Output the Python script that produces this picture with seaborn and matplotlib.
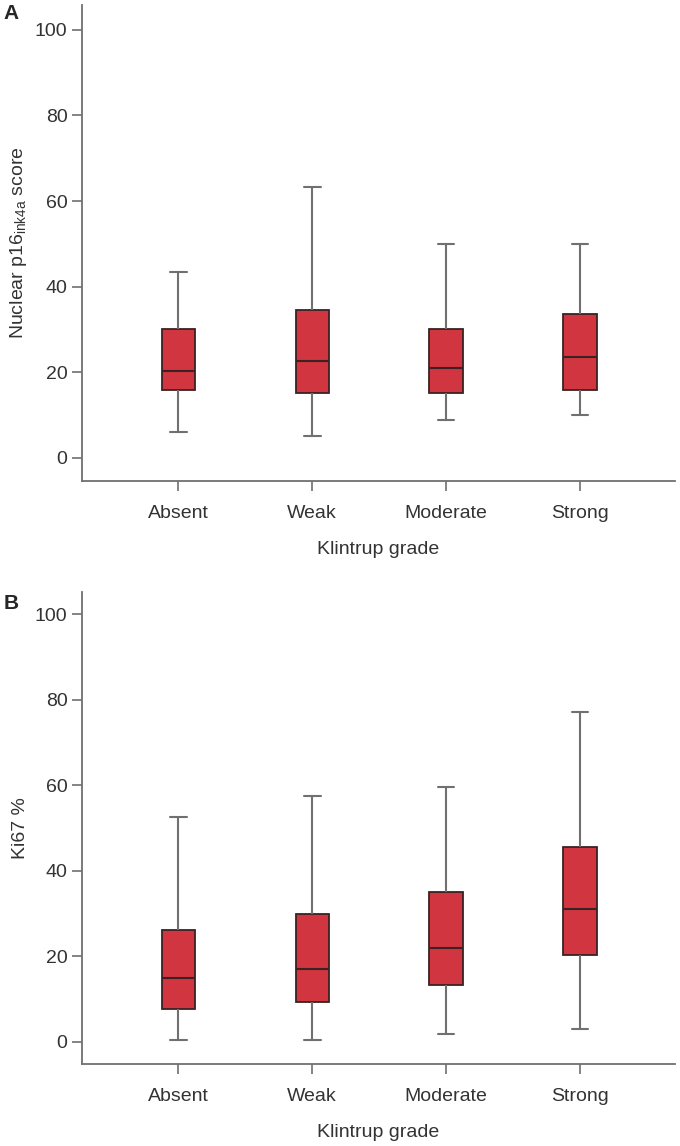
import pandas as pd
import matplotlib
matplotlib.use("Agg")
import matplotlib.pyplot as plt
import seaborn as sns

# 样式
sns.set_style("ticks")
plt.rcParams['font.family'] = ['Liberation Sans', 'DejaVu Sans']
plt.rcParams['mathtext.fontset'] = 'custom'
plt.rcParams['mathtext.rm'] = 'Liberation Sans'

# 数据: 每组为 最小值, 下四分位, 中位数, 上四分位, 最大值
grades = ['Absent', 'Weak', 'Moderate', 'Strong']

p16_min = [6.1, 5.2, 8.9, 10.1]
p16_q1 = [15.8, 15.2, 15.2, 15.8]
p16_med = [20.2, 22.7, 21.0, 23.5]
p16_q3 = [30.1, 34.6, 30.1, 33.5]
p16_max = [43.4, 63.4, 50.0, 50.0]

ki67_min = [0.4, 0.4, 1.7, 2.9]
ki67_q1 = [7.7, 9.2, 13.3, 20.3]
ki67_med = [14.9, 16.9, 22.0, 31.1]
ki67_q3 = [26.1, 29.8, 35.0, 45.5]
ki67_max = [52.5, 57.5, 59.7, 77.2]


def five_num_frame(mins, q1s, meds, q3s, maxs):
    rows = []
    for i, g in enumerate(grades):
        for v in (mins[i], q1s[i], meds[i], q3s[i], maxs[i]):
            rows.append({'grade': g, 'value': v})
    return pd.DataFrame(rows)


df_a = five_num_frame(p16_min, p16_q1, p16_med, p16_q3, p16_max)
df_b = five_num_frame(ki67_min, ki67_q1, ki67_med, ki67_q3, ki67_max)

fig = plt.figure(figsize=(6.8, 11.46), dpi=100)
ax1 = fig.add_axes([0.1206, 0.5803, 0.872, 0.4153])
ax2 = fig.add_axes([0.1206, 0.0716, 0.872, 0.4118])

box_kw = dict(
    order=grades, width=0.25, whis=(0, 100), color='#d03540',
    saturation=1, fliersize=0,
    boxprops=dict(edgecolor='#3a2224', linewidth=1.3),
    medianprops=dict(color='#3a2224', linewidth=1.5),
    whiskerprops=dict(color='#707070', linewidth=1.5),
    capprops=dict(color='#707070', linewidth=1.5),
)

sns.boxplot(data=df_a, x='grade', y='value', ax=ax1, **box_kw)
sns.boxplot(data=df_b, x='grade', y='value', ax=ax2, **box_kw)

ax1.set_ylabel(r'Nuclear p16$_{\mathregular{ink4a}}$ score', fontsize=14)
ax2.set_ylabel('Ki67 %', fontsize=14)

for ax, ylim in ((ax1, (-5.4, 105.8)), (ax2, (-5.2, 105.2))):
    ax.set_xlim(-0.72, 3.71)
    ax.set_ylim(*ylim)
    ax.set_yticks([0, 20, 40, 60, 80, 100])
    ax.set_xlabel('Klintrup grade', fontsize=14, color='#333333', labelpad=14)
    ax.yaxis.label.set_color('#333333')
    ax.tick_params(labelsize=14, colors='#333333', length=7, width=1.2,
                   color='#707070')
    ax.tick_params(axis='x', pad=10)
    for s in ('left', 'bottom'):
        ax.spines[s].set_color('#707070')
        ax.spines[s].set_linewidth(1.3)
    sns.despine(ax=ax)

fig.text(0.005, 0.988, 'A', fontsize=15, fontweight='bold', va='center')
fig.text(0.005, 0.473, 'B', fontsize=15, fontweight='bold', va='center')

plt.savefig('out.png', dpi=100)
